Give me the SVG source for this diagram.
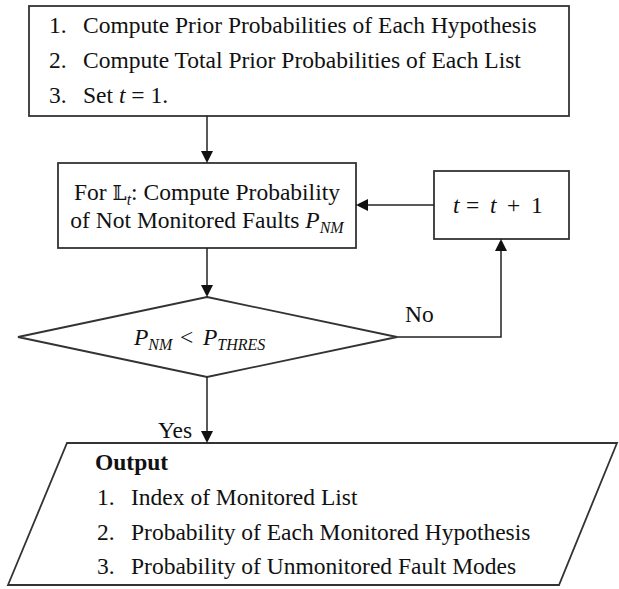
<svg xmlns="http://www.w3.org/2000/svg" width="619" height="589" viewBox="0 0 619 589">
<style>
.box{fill:#fff;stroke:#333;stroke-width:1.8}
.t{font-family:"Liberation Serif","Times New Roman",serif;font-size:23.5px;fill:#111}
.i{font-style:italic}
.b{font-weight:bold}
.sub{font-style:italic;font-size:16px}
.con{fill:none;stroke:#222;stroke-width:1.5}
.ds{font-family:"DejaVu Serif","DejaVu Sans",serif;font-size:20px}
</style>
<defs>
<marker id="ah" viewBox="0 0 10 12" refX="12" refY="6" markerWidth="10" markerHeight="12" markerUnits="userSpaceOnUse" orient="auto">
<path d="M0,0 L12,6 L0,12 z" fill="#111"/>
</marker>
</defs>
<rect width="619" height="589" fill="#fff"/>
<g id="init">
<rect class="box" x="29" y="6" width="540" height="110"/>
<text class="t" x="49" y="33">1.</text><text class="t" x="83" y="33">Compute Prior Probabilities of Each Hypothesis</text>
<text class="t" x="49" y="68">2.</text><text class="t" x="83" y="68">Compute Total Prior Probabilities of Each List</text>
<text class="t" x="49" y="103">3.</text><text class="t" x="83" y="103">Set <tspan class="i">t</tspan> = 1.</text>
</g>
<g id="compute">
<rect class="box" x="58" y="163" width="298" height="85"/>
<text class="t" x="207" y="200" text-anchor="middle">For <tspan class="ds">𝕃</tspan><tspan class="sub" dy="5">t</tspan><tspan dy="-5">: Compute Probability</tspan></text>
<text class="t" x="207" y="228" text-anchor="middle">of Not Monitored Faults <tspan class="i">P</tspan><tspan class="sub" dy="5">NM</tspan></text>
</g>
<g id="increment">
<rect class="box" x="434" y="171" width="135" height="68"/>
<text class="t i" x="453" y="213">t</text>
<text class="t" x="466" y="213" font-size="26">=</text>
<text class="t i" x="490" y="213">t</text>
<text class="t" x="507" y="213" font-size="26">+</text>
<text class="t" x="531" y="213">1</text>
</g>
<g id="decision">
<polygon class="box" points="207,297 397,337 207,377 18,337"/>
<text class="t" x="134" y="345"><tspan class="i">P</tspan><tspan class="sub" dy="5">NM</tspan></text>
<text class="t" x="180" y="345">&lt;</text>
<text class="t" x="203" y="345"><tspan class="i">P</tspan><tspan class="sub" dy="5">THRES</tspan></text>
</g>
<g id="output">
<polygon class="box" points="67,443 617,443 559,585 8,585"/>
<text class="t b" x="95" y="470">Output</text>
<text class="t" x="97" y="505">1.</text><text class="t" x="131" y="505">Index of Monitored List</text>
<text class="t" x="97" y="540">2.</text><text class="t" x="131" y="540">Probability of Each Monitored Hypothesis</text>
<text class="t" x="97" y="574">3.</text><text class="t" x="131" y="574">Probability of Unmonitored Fault Modes</text>
</g>
<g id="connectors">
<path class="con" d="M207,116 L207,163" marker-end="url(#ah)"/>
<path class="con" d="M207,248 L207,297" marker-end="url(#ah)"/>
<path class="con" d="M397,337 L501,337 L501,239" marker-end="url(#ah)"/>
<path class="con" d="M434,205 L356,205" marker-end="url(#ah)"/>
<path class="con" d="M207,377 L207,443" marker-end="url(#ah)"/>
<text class="t" x="405" y="322">No</text>
<text class="t" x="158" y="438">Yes</text>
</g>
</svg>
